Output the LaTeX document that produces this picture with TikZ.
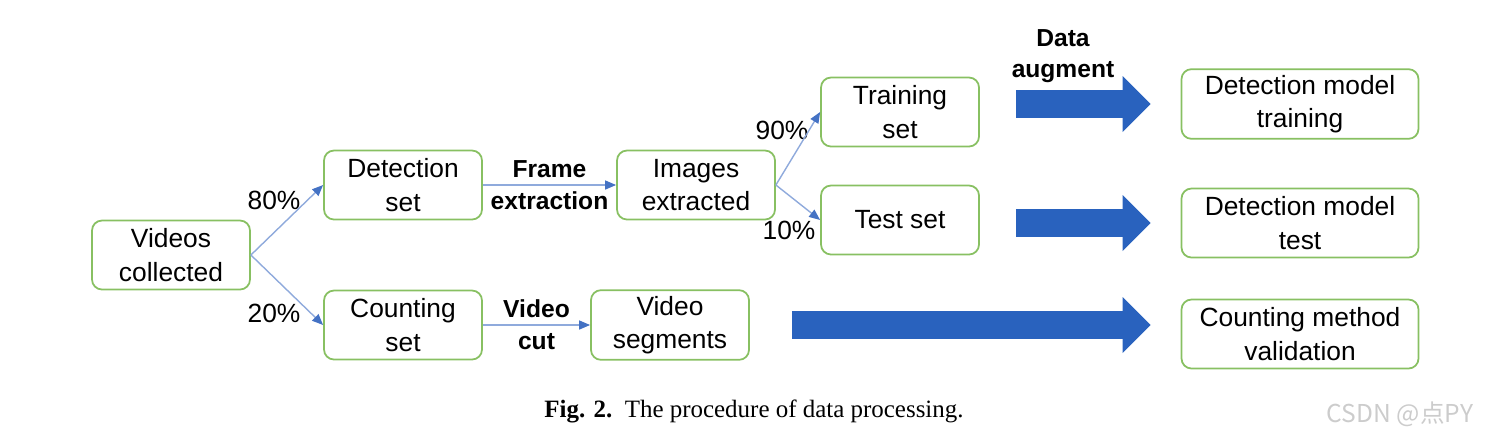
\documentclass[tikz,border=0pt]{standalone}
\usepackage{fontspec}
\setmainfont{Liberation Sans}
\newfontfamily\capfont{Liberation Serif}
\newfontfamily\cjkfont{Noto Sans CJK SC}
\usetikzlibrary{arrows.meta}
\definecolor{boxgreen}{RGB}{136,192,98}
\definecolor{linkblue}{RGB}{143,170,220}
\definecolor{tipblue}{RGB}{68,114,196}
\definecolor{bigblue}{RGB}{41,98,190}

\begin{document}
\begin{tikzpicture}[
  every node/.style={font=\fontsize{15}{19}\selectfont},
  block/.style={rectangle, draw=boxgreen, line width=1pt, rounded corners=0.2cm, minimum width=3.16cm, minimum height=1.38cm, align=center},
  wideblock/.style={block, minimum width=4.74cm},
  link/.style={draw=linkblue, line width=0.8pt, -{Triangle[length=0.22cm,width=0.18cm,color=tipblue]}},
  bigarrow/.style={draw=bigblue, line width=0.55cm, -{Triangle[length=0.56cm,width=1.12cm,line width=0pt,color=bigblue]}},
  boldlbl/.style={font=\fontsize{14}{18}\selectfont\bfseries, align=center, inner sep=1pt},
]
\useasboundingbox (0,0) rectangle (29.78,-8.82);

% Column 1: Input
\node[block] (videos) at (3.42, -5.10) {Videos\\collected};

% Column 2: Two subsets
\node[block] (detset) at (8.06, -3.70) {Detection\\set};
\node[block] (countset) at (8.06, -6.50) {Counting\\set};

% Column 3: Processed data
\node[block] (images) at (13.92, -3.70) {Images\\extracted};
\node[block] (segs) at (13.40, -6.50) {Video\\segments};

% Column 4: Split
\node[block] (train) at (18.00, -2.24) {Training\\set};
\node[block] (test) at (18.00, -4.40) {Test set};

% Column 5: Usage
\node[wideblock] (dmtrain) at (26.00, -2.08) {Detection model\\training};
\node[wideblock] (dmtest) at (26.00, -4.46) {Detection model\\test};
\node[wideblock] (valid) at (26.00, -6.68) {Counting method\\validation};

% Percentages
\node (p80) at (5.48, -4.00) {80\%};
\node (p20) at (5.48, -6.26) {20\%};
\node (p90) at (15.64, -2.60) {90\%};
\node (p10) at (15.78, -4.60) {10\%};

% Arrows
\draw[link] (videos.east) -- (detset.west);
\draw[link] (videos.east) -- (countset.west);
\draw[link] (detset) -- (images) node[midway, boldlbl] {Frame\\extraction};
\draw[link] (countset) -- (segs) node[midway, boldlbl] {Video\\cut};
\draw[link] (images.east) -- (train.west);
\draw[link] (images.east) -- (test.west);

% Block arrows
\node[boldlbl] (aug) at (21.26, -1.12) {Data\\augment};
\draw[bigarrow, shorten <=0.72cm, shorten >=0.6cm] (train.east |- dmtrain.west) -- (dmtrain.west);
\draw[bigarrow, shorten <=0.72cm, shorten >=0.6cm] (test.east |- dmtest.west) -- (dmtest.west);
\draw[bigarrow, shorten <=0.84cm, shorten >=0.6cm] (segs.east) -- (segs.east -| valid.west);

% Caption
\node (caption) at (15.08, -8.22) {\capfont\fontsize{14.2}{16}\selectfont\textbf{Fig. 2.}\ \ The procedure of data processing.};
\node[text=gray!40] (mark) at (28.00, -8.28) {\cjkfont\fontsize{14}{16}\selectfont CSDN @点PY};

\end{tikzpicture}
\end{document}
